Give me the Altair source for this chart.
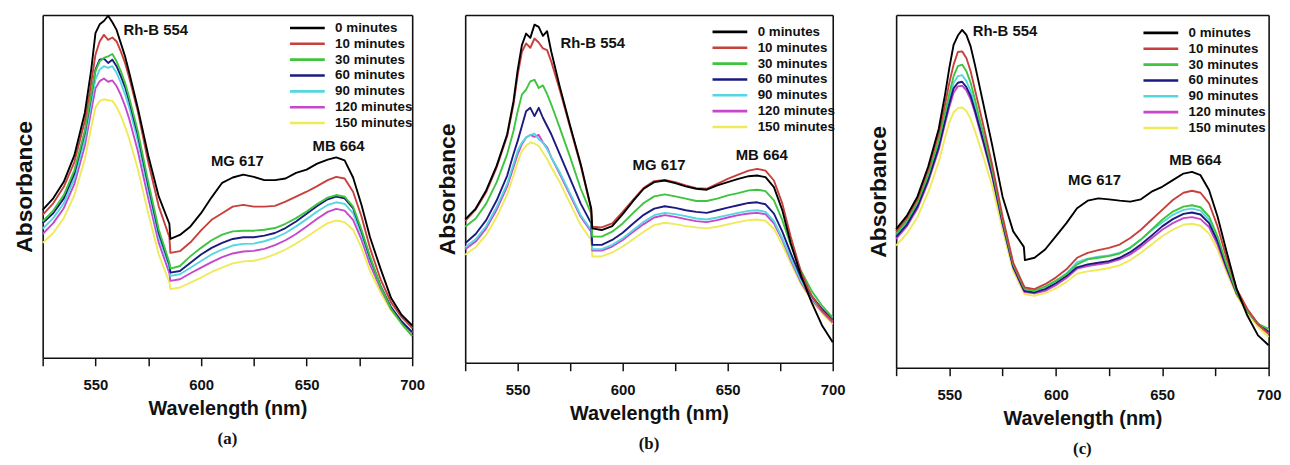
import altair as alt
import pandas as pd

WAVELENGTH = [525, 530, 535, 540, 545, 548, 550, 552, 554, 556, 558, 560, 562, 564, 566,
              570, 575, 580, 585, 585.5, 590, 595, 600, 605, 610, 615, 620, 625, 630, 635,
              640, 645, 650, 655, 660, 664, 668, 672, 676, 680, 685, 690, 695, 700]
SERIES = ["0 minutes", "10 minutes", "30 minutes", "60 minutes",
          "90 minutes", "120 minutes", "150 minutes"]
COLORS = ["#000000", "#c8403c", "#3ec43e", "#1a1a80", "#55d6e0", "#c646cc", "#eeea5a"]
X_TICKS = [525, 550, 575, 600, 625, 650, 675, 700]

# ---- panel (a) ----
A_0 = [0.448, 0.483, 0.533, 0.613, 0.743, 0.873, 0.983, 1.010, 1.020, 1.036, 1.016, 0.993, 0.953, 0.913, 0.863,
       0.758, 0.613, 0.488, 0.406, 0.360, 0.372, 0.398, 0.438, 0.486, 0.530, 0.546, 0.555, 0.548, 0.538, 0.538,
       0.543, 0.560, 0.570, 0.588, 0.600, 0.607, 0.598, 0.546, 0.463, 0.366, 0.270, 0.181, 0.130, 0.098]
A_10 = [0.433, 0.468, 0.518, 0.593, 0.718, 0.833, 0.918, 0.958, 0.978, 0.963, 0.970, 0.958, 0.928, 0.893, 0.848,
        0.748, 0.593, 0.458, 0.366, 0.318, 0.323, 0.350, 0.386, 0.418, 0.438, 0.458, 0.463, 0.458, 0.458, 0.460,
        0.473, 0.488, 0.503, 0.520, 0.538, 0.548, 0.543, 0.503, 0.428, 0.333, 0.238, 0.168, 0.123, 0.090]
A_30 = [0.413, 0.446, 0.493, 0.568, 0.688, 0.798, 0.868, 0.898, 0.908, 0.913, 0.920, 0.898, 0.868, 0.833, 0.788,
        0.688, 0.533, 0.388, 0.288, 0.270, 0.278, 0.308, 0.333, 0.356, 0.373, 0.383, 0.385, 0.385, 0.388, 0.393,
        0.406, 0.423, 0.443, 0.466, 0.485, 0.493, 0.488, 0.458, 0.388, 0.308, 0.216, 0.148, 0.103, 0.066]
A_60 = [0.408, 0.438, 0.483, 0.558, 0.683, 0.793, 0.873, 0.903, 0.906, 0.893, 0.903, 0.883, 0.853, 0.820, 0.778,
        0.678, 0.523, 0.378, 0.283, 0.258, 0.263, 0.288, 0.313, 0.333, 0.348, 0.360, 0.365, 0.365, 0.370, 0.378,
        0.393, 0.413, 0.436, 0.460, 0.480, 0.488, 0.483, 0.453, 0.383, 0.303, 0.218, 0.153, 0.110, 0.078]
A_90 = [0.391, 0.423, 0.468, 0.543, 0.663, 0.773, 0.843, 0.873, 0.883, 0.878, 0.883, 0.863, 0.833, 0.798, 0.758,
        0.658, 0.508, 0.366, 0.273, 0.248, 0.253, 0.273, 0.293, 0.313, 0.328, 0.340, 0.345, 0.346, 0.353, 0.363,
        0.378, 0.398, 0.420, 0.443, 0.463, 0.471, 0.466, 0.438, 0.373, 0.298, 0.216, 0.153, 0.110, 0.078]
A_120 = [0.375, 0.408, 0.453, 0.526, 0.643, 0.748, 0.816, 0.838, 0.846, 0.836, 0.840, 0.823, 0.796, 0.763, 0.723,
         0.628, 0.483, 0.348, 0.256, 0.233, 0.238, 0.256, 0.273, 0.290, 0.305, 0.316, 0.322, 0.324, 0.330, 0.341,
         0.356, 0.375, 0.398, 0.421, 0.442, 0.451, 0.446, 0.418, 0.358, 0.283, 0.210, 0.148, 0.108, 0.075]
A_150 = [0.348, 0.378, 0.423, 0.493, 0.603, 0.698, 0.758, 0.778, 0.783, 0.780, 0.778, 0.760, 0.733, 0.700, 0.663,
         0.573, 0.438, 0.313, 0.228, 0.208, 0.213, 0.228, 0.243, 0.260, 0.273, 0.286, 0.292, 0.294, 0.302, 0.313,
         0.328, 0.346, 0.366, 0.388, 0.408, 0.416, 0.411, 0.388, 0.333, 0.263, 0.198, 0.143, 0.106, 0.078]

# ---- panel (b) ----
B_0 = [0.434, 0.467, 0.522, 0.597, 0.692, 0.792, 0.887, 0.962, 0.997, 0.984, 1.024, 1.017, 0.990, 1.004, 0.942,
       0.837, 0.717, 0.602, 0.467, 0.407, 0.402, 0.414, 0.450, 0.490, 0.527, 0.547, 0.552, 0.544, 0.534, 0.527,
       0.524, 0.537, 0.547, 0.557, 0.565, 0.567, 0.562, 0.532, 0.462, 0.362, 0.262, 0.182, 0.112, 0.062]
B_10 = [0.430, 0.464, 0.517, 0.592, 0.687, 0.782, 0.872, 0.942, 0.967, 0.954, 0.982, 0.970, 0.952, 0.947, 0.912,
        0.827, 0.712, 0.597, 0.464, 0.412, 0.410, 0.422, 0.457, 0.494, 0.530, 0.550, 0.554, 0.547, 0.537, 0.529,
        0.527, 0.542, 0.557, 0.570, 0.582, 0.587, 0.582, 0.552, 0.482, 0.382, 0.272, 0.202, 0.157, 0.127]
B_30 = [0.412, 0.437, 0.482, 0.547, 0.632, 0.702, 0.762, 0.812, 0.827, 0.852, 0.857, 0.832, 0.840, 0.814, 0.782,
        0.712, 0.622, 0.527, 0.452, 0.382, 0.382, 0.397, 0.422, 0.454, 0.484, 0.504, 0.510, 0.504, 0.497, 0.490,
        0.490, 0.497, 0.507, 0.514, 0.522, 0.524, 0.520, 0.492, 0.432, 0.357, 0.277, 0.217, 0.172, 0.137]
B_60 = [0.362, 0.390, 0.432, 0.492, 0.567, 0.632, 0.672, 0.717, 0.762, 0.772, 0.747, 0.772, 0.742, 0.717, 0.692,
        0.632, 0.557, 0.482, 0.422, 0.357, 0.357, 0.372, 0.394, 0.422, 0.448, 0.467, 0.474, 0.469, 0.462, 0.457,
        0.454, 0.462, 0.470, 0.477, 0.484, 0.486, 0.480, 0.452, 0.397, 0.332, 0.257, 0.202, 0.162, 0.130]
B_90 = [0.350, 0.374, 0.414, 0.472, 0.542, 0.602, 0.642, 0.667, 0.682, 0.690, 0.694, 0.677, 0.667, 0.647, 0.622,
        0.577, 0.512, 0.447, 0.402, 0.344, 0.344, 0.357, 0.377, 0.402, 0.427, 0.447, 0.454, 0.450, 0.444, 0.437,
        0.434, 0.440, 0.447, 0.454, 0.460, 0.462, 0.457, 0.430, 0.377, 0.317, 0.247, 0.197, 0.157, 0.127]
B_120 = [0.344, 0.367, 0.407, 0.464, 0.534, 0.592, 0.632, 0.662, 0.682, 0.690, 0.684, 0.690, 0.667, 0.652, 0.622,
         0.572, 0.507, 0.442, 0.397, 0.340, 0.340, 0.352, 0.372, 0.397, 0.420, 0.440, 0.447, 0.442, 0.435, 0.429,
         0.426, 0.432, 0.440, 0.447, 0.452, 0.454, 0.450, 0.422, 0.372, 0.312, 0.242, 0.192, 0.154, 0.122]
B_150 = [0.327, 0.350, 0.387, 0.442, 0.510, 0.567, 0.607, 0.642, 0.657, 0.667, 0.664, 0.657, 0.637, 0.617, 0.592,
         0.547, 0.482, 0.417, 0.372, 0.322, 0.322, 0.334, 0.352, 0.374, 0.397, 0.417, 0.424, 0.420, 0.414, 0.410,
         0.407, 0.412, 0.419, 0.426, 0.432, 0.434, 0.430, 0.406, 0.357, 0.302, 0.237, 0.187, 0.150, 0.117]

# ---- panel (c) ----
C_0 = [0.420, 0.460, 0.518, 0.608, 0.723, 0.828, 0.908, 0.978, 1.006, 1.023, 1.008, 0.973, 0.918, 0.858, 0.798,
       0.678, 0.518, 0.413, 0.366, 0.326, 0.333, 0.358, 0.398, 0.438, 0.483, 0.506, 0.513, 0.510, 0.506, 0.503,
       0.510, 0.533, 0.548, 0.568, 0.588, 0.593, 0.583, 0.538, 0.458, 0.358, 0.238, 0.158, 0.098, 0.068]
C_10 = [0.413, 0.453, 0.510, 0.598, 0.708, 0.798, 0.863, 0.918, 0.956, 0.958, 0.938, 0.898, 0.843, 0.788, 0.733,
        0.618, 0.458, 0.318, 0.248, 0.243, 0.238, 0.253, 0.273, 0.298, 0.333, 0.348, 0.356, 0.363, 0.373, 0.393,
        0.418, 0.448, 0.478, 0.508, 0.530, 0.536, 0.530, 0.498, 0.428, 0.338, 0.238, 0.178, 0.133, 0.103]
C_30 = [0.406, 0.445, 0.500, 0.583, 0.688, 0.773, 0.830, 0.883, 0.913, 0.918, 0.898, 0.863, 0.813, 0.758, 0.708,
        0.603, 0.448, 0.313, 0.243, 0.238, 0.233, 0.246, 0.263, 0.283, 0.313, 0.328, 0.333, 0.338, 0.346, 0.363,
        0.388, 0.418, 0.448, 0.473, 0.488, 0.492, 0.486, 0.458, 0.398, 0.318, 0.228, 0.173, 0.133, 0.118]
C_60 = [0.396, 0.433, 0.488, 0.568, 0.668, 0.748, 0.800, 0.846, 0.863, 0.866, 0.850, 0.823, 0.780, 0.733, 0.686,
        0.588, 0.438, 0.306, 0.236, 0.232, 0.228, 0.238, 0.256, 0.278, 0.304, 0.313, 0.318, 0.323, 0.333, 0.350,
        0.373, 0.400, 0.428, 0.450, 0.466, 0.470, 0.464, 0.438, 0.383, 0.308, 0.226, 0.173, 0.133, 0.108]
C_90 = [0.398, 0.438, 0.493, 0.573, 0.678, 0.758, 0.813, 0.863, 0.883, 0.886, 0.868, 0.838, 0.793, 0.743, 0.693,
        0.593, 0.443, 0.310, 0.240, 0.236, 0.232, 0.244, 0.263, 0.286, 0.320, 0.330, 0.336, 0.340, 0.348, 0.364,
        0.388, 0.416, 0.440, 0.463, 0.478, 0.482, 0.476, 0.448, 0.388, 0.313, 0.228, 0.173, 0.133, 0.113]
C_120 = [0.390, 0.428, 0.482, 0.562, 0.660, 0.740, 0.790, 0.833, 0.852, 0.854, 0.840, 0.813, 0.773, 0.726, 0.680,
         0.583, 0.436, 0.303, 0.233, 0.229, 0.225, 0.233, 0.250, 0.272, 0.300, 0.308, 0.313, 0.318, 0.328, 0.343,
         0.366, 0.392, 0.418, 0.438, 0.453, 0.456, 0.450, 0.426, 0.373, 0.303, 0.223, 0.173, 0.130, 0.103]
C_150 = [0.370, 0.406, 0.456, 0.530, 0.623, 0.698, 0.743, 0.773, 0.786, 0.788, 0.778, 0.753, 0.718, 0.678, 0.638,
         0.553, 0.418, 0.293, 0.226, 0.222, 0.218, 0.226, 0.240, 0.260, 0.285, 0.292, 0.296, 0.302, 0.310, 0.326,
         0.348, 0.373, 0.398, 0.418, 0.433, 0.436, 0.430, 0.406, 0.358, 0.293, 0.218, 0.166, 0.123, 0.093]

# peak annotations: label, wavelength of label's left edge, absorbance of label centre
ANN_LABELS = ["Rh-B 554", "MG 617", "MB 664"]
ANN_A_X = [563.3, 604.7, 652.8]
ANN_A_Y = [0.993, 0.595, 0.641]
ANN_B_X = [570.4, 604.7, 653.8]
ANN_B_Y = [0.967, 0.599, 0.630]
ANN_C_X = [561.0, 605.8, 653.3]
ANN_C_Y = [1.020, 0.568, 0.628]

SANS = "Liberation Sans"
SERIF = "Liberation Serif"
INK = "#111111"


def panel(series_values, ann_x, ann_y, caption, width, height, ytop, legend_y):
    rows = []
    # draw later-time curves first so that the 0 minute curve ends up on top
    for name, vals in reversed(list(zip(SERIES, series_values))):
        for w, v in zip(WAVELENGTH, vals):
            rows.append({"wavelength": w, "absorbance": v, "series": name})
    df = pd.DataFrame(rows)

    xscale = alt.Scale(domain=[525, 700], nice=False, zero=False)
    yscale = alt.Scale(domain=[0, ytop], nice=False, zero=False)
    frame = dict(domain=True, domainColor=INK, domainWidth=1.6, grid=False)

    x_enc = alt.X(
        "wavelength:Q", title="Wavelength (nm)", scale=xscale,
        axis=alt.Axis(
            orient="bottom", values=X_TICKS,
            labelExpr="(datum.value % 50 == 0 && datum.value > 525) ? datum.label : ''",
            ticks=True, tickSize=8, tickWidth=1.5, tickColor=INK,
            labelFont=SANS, labelFontSize=15, labelFontWeight="bold", labelColor=INK,
            labelPadding=12, labelFlush=False, labelOverlap=False,
            titleFont=SANS, titleFontSize=20, titleFontWeight="bold", titleColor=INK,
            titlePadding=6, **frame,
        ),
    )
    y_enc = alt.Y(
        "absorbance:Q", title="Absorbance", scale=yscale,
        axis=alt.Axis(
            orient="left", labels=False, ticks=False, minExtent=0,
            titleFont=SANS, titleFontSize=23, titleFontWeight="bold", titleColor=INK,
            titlePadding=6, **frame,
        ),
    )

    lines = alt.Chart(df).mark_line(strokeWidth=1.9, strokeJoin="round").encode(
        x=x_enc,
        y=y_enc,
        color=alt.Color(
            "series:N",
            scale=alt.Scale(domain=SERIES, range=COLORS),
            legend=alt.Legend(
                title=None, orient="none", legendX=250, legendY=legend_y,
                symbolType="M-2.7,0L2.7,0", symbolSize=169, symbolStrokeWidth=2.6,
                symbolOffset=9.2,
                labelFont=SANS, labelFontSize=13.5, labelFontWeight="bold", labelColor=INK,
                labelOffset=20, rowPadding=1.0, padding=0,
            ),
        ),
    )

    ann_df = pd.DataFrame({"label": ANN_LABELS, "wavelength": ann_x, "absorbance": ann_y})
    texts = alt.Chart(ann_df).mark_text(
        align="left", baseline="middle", font=SANS, fontSize=15, fontWeight="bold", color=INK
    ).encode(
        x=alt.X("wavelength:Q", title=None, scale=xscale,
                axis=alt.Axis(orient="top", labels=False, ticks=False, minExtent=0, **frame)),
        y=alt.Y("absorbance:Q", title=None, scale=yscale,
                axis=alt.Axis(orient="right", labels=False, ticks=False, minExtent=0, **frame)),
        text="label:N",
    )

    return alt.layer(lines, texts).resolve_axis(x="independent", y="independent").properties(
        width=width,
        height=height,
        title=alt.TitleParams(
            text=caption, orient="bottom", anchor="middle", font=SERIF, fontSize=17,
            fontWeight="bold", color=INK, offset=13,
        ),
    )


pa = panel([A_0, A_10, A_30, A_60, A_90, A_120, A_150], ANN_A_X, ANN_A_Y, "(a)", 373, 346, 1.038, 5)
pb = panel([B_0, B_10, B_30, B_60, B_90, B_120, B_150], ANN_B_X, ANN_B_Y, "(b)", 371, 351, 1.053, 9)
pc = panel([C_0, C_10, C_30, C_60, C_90, C_120, C_150], ANN_C_X, ANN_C_Y, "(c)", 376, 356, 1.068, 10)

left_pair = (
    alt.hconcat(pa, pb, spacing=11.5)
    .resolve_scale(color="independent")
    .resolve_legend(color="independent")
)
chart = (
    alt.hconcat(left_pair, pc, spacing=21.5)
    .resolve_scale(color="independent")
    .resolve_legend(color="independent")
    .properties(padding={"left": 6, "top": 4, "right": 0, "bottom": 0}, background="white")
    .configure_view(stroke=None)
)

chart.save("out.html", embed_options={"renderer": "svg", "actions": False})
